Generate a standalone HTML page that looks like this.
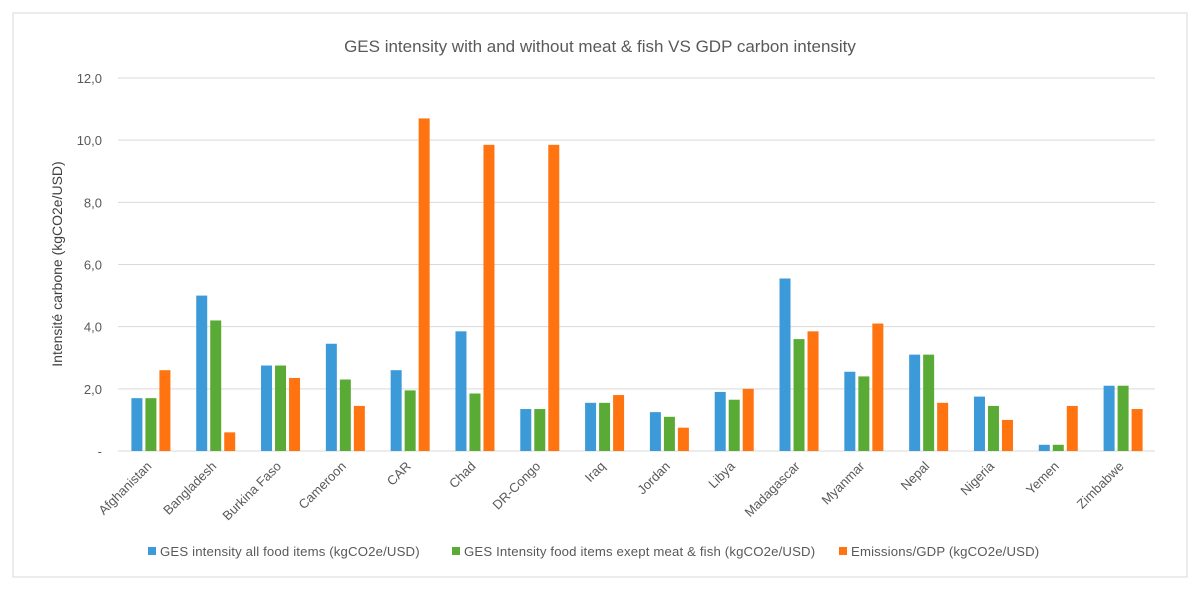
<!DOCTYPE html>
<html><head><meta charset="utf-8"><style>
body{margin:0;background:#fff;}
svg{font-family:"Liberation Sans",sans-serif;}
</style></head><body>
<svg id="c" width="1200" height="600">
<rect x="13" y="13" width="1174" height="564" fill="#fff" stroke="#d9d9d9"/>
<text x="600" y="52" text-anchor="middle" font-size="17" fill="#595959">GES intensity with and without meat &amp; fish VS GDP carbon intensity</text>
<text transform="translate(62,264) rotate(-90)" text-anchor="middle" font-size="14" fill="#404040">Intensité carbone (kgCO2e/USD)</text>
<g id="grid"></g><g id="bars"></g><g id="xl"></g>
<g id="legend"></g>
</svg>
<script>
const categories=["Afghanistan","Bangladesh","Burkina Faso","Cameroon","CAR","Chad","DR-Congo","Iraq","Jordan","Libya","Madagascar","Myanmar","Nepal","Nigeria","Yemen","Zimbabwe"];
const allFood=[1.7,5.0,2.75,3.45,2.6,3.85,1.35,1.55,1.25,1.9,5.55,2.55,3.1,1.75,0.2,2.1];
const noMeat=[1.7,4.2,2.75,2.3,1.95,1.85,1.35,1.55,1.1,1.65,3.6,2.4,3.1,1.45,0.2,2.1];
const emissions=[2.6,0.6,2.35,1.45,10.7,9.85,9.85,1.8,0.75,2.0,3.85,4.1,1.55,1.0,1.45,1.35];
const yTicks=[0,2,4,6,8,10,12];
const yTickLabels=["-","2,0","4,0","6,0","8,0","10,0","12,0"];
const seriesNames=["GES intensity all food items (kgCO2e/USD)","GES Intensity food items exept meat & fish (kgCO2e/USD)","Emissions/GDP (kgCO2e/USD)"];
const colors=["#3c9ad9","#5aab35","#ff7310"];
const NS="http://www.w3.org/2000/svg";
const x0=118,x1=1155,y0=451,y1=78,ymax=12;
const bw=(x1-x0)/categories.length;
const Y=v=>y0-(v/ymax)*(y0-y1);
const X=i=>x0+bw*(i+0.5);
function mk(t,a,p){const e=document.createElementNS(NS,t);for(const k in a)e.setAttribute(k,a[k]);p.appendChild(e);return e;}
const grid=document.getElementById('grid');
yTicks.forEach((t,i)=>{
 const l=mk('line',{x1:x0,x2:x1,y1:Y(t),y2:Y(t),stroke:'#d9d9d9','stroke-width':1},grid);
 
 
 const tx=mk('text',{x:102,y:Y(t)+5,'text-anchor':'end','font-size':13,fill:'#595959'},grid);
 tx.textContent=yTickLabels[i];
 
 
});
const bars=document.getElementById('bars');
const series=[allFood,noMeat,emissions];
const offs=[-19,-5,9];
series.forEach((s,si)=>s.forEach((v,i)=>{
 const r=mk('rect',{x:X(i)+offs[si],y:Y(v),width:11,height:y0-Y(v),fill:colors[si]},bars);
 
 
}));
const xl=document.getElementById('xl');
categories.forEach((c,i)=>{
 const t=mk('text',{transform:`translate(${X(i)+2},${y0+16}) rotate(-45)`,'text-anchor':'end','font-size':13,fill:'#595959'},xl);
 t.textContent=c;
 
 
});
const lg=document.getElementById('legend');
const lx=[148,452,839];
seriesNames.forEach((n,i)=>{
 const g=mk('g',{},lg);
 
 
 mk('rect',{x:lx[i],y:547,width:8,height:8,fill:colors[i]},g);
 const t=mk('text',{x:lx[i]+12,y:556,'font-size':13.2,'letter-spacing':0.15,fill:'#595959'},g);
 t.textContent=n;
});
</script>
</body></html>
